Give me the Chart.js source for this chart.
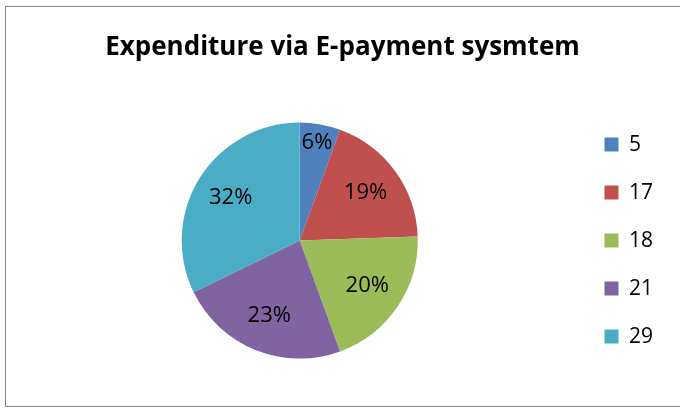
<!DOCTYPE html>
<html>
<head>
<meta charset="utf-8">
<script src="https://cdn.jsdelivr.net/npm/chart.js@4/dist/chart.umd.min.js"></script>
<style>
  html, body { margin: 0; padding: 0; background: #fff; }
  #wrap { position: relative; width: 680px; height: 409px; overflow: hidden; }
  #frame { position: absolute; left: 5px; top: 6px; width: 700px; height: 399px; border: 1px solid #868686; }
  canvas { position: absolute; left: 0; top: 0; }
</style>
</head>
<body>
<div id="wrap">
  <div id="frame"></div>
  <canvas id="chart" width="680" height="409"></canvas>
</div>
<script>
const categories = ["5", "17", "18", "21", "29"];
const values = [5, 17, 18, 21, 29];
const sliceColors = ["#4F81BD", "#C0504D", "#9BBB59", "#8064A2", "#4BACC6"];
const chartTitle = "Expenditure via E-payment sysmtem";

// percentage labels inside the slices
const pctLabels = {
  id: "pctLabels",
  afterDatasetsDraw(chart) {
    const ctx = chart.ctx;
    const meta = chart.getDatasetMeta(0);
    const total = values.reduce((a, b) => a + b, 0);
    ctx.save();
    ctx.font = "22px 'Open Sans'";
    ctx.fillStyle = "#000";
    ctx.textAlign = "center";
    ctx.textBaseline = "middle";
    meta.data.forEach((arc, i) => {
      const share = values[i] / total;
      const mid = (arc.startAngle + arc.endAngle) / 2;
      const r = arc.outerRadius * (share < 0.1 ? 0.84 : 0.69);
      ctx.fillText(Math.round(share * 100) + "%", arc.x + Math.cos(mid) * r, arc.y + Math.sin(mid) * r);
    });
    ctx.restore();
  },
};

new Chart(document.getElementById("chart"), {
  type: "pie",
  data: {
    labels: categories,
    datasets: [
      {
        data: values,
        backgroundColor: sliceColors,
        borderColor: sliceColors,
        borderWidth: 0,
        radius: 118,
      },
    ],
  },
  options: {
    responsive: false,
    animation: false,
    layout: { padding: { left: 22, right: 17, top: 0, bottom: 0 } },
    plugins: {
      title: {
        display: true,
        text: chartTitle,
        color: "#000",
        font: { family: "'Open Sans'", size: 26, weight: "bold" },
        padding: { top: 32, bottom: 9 },
      },
      legend: {
        position: "right",
        fullSize: false,
        labels: {
          boxWidth: 14,
          boxHeight: 14,
          padding: 27,
          color: "#000",
          font: { family: "'Open Sans'", size: 21 },
        },
      },
      tooltip: { enabled: false },
    },
  },
  plugins: [pctLabels],
});
</script>
</body>
</html>
